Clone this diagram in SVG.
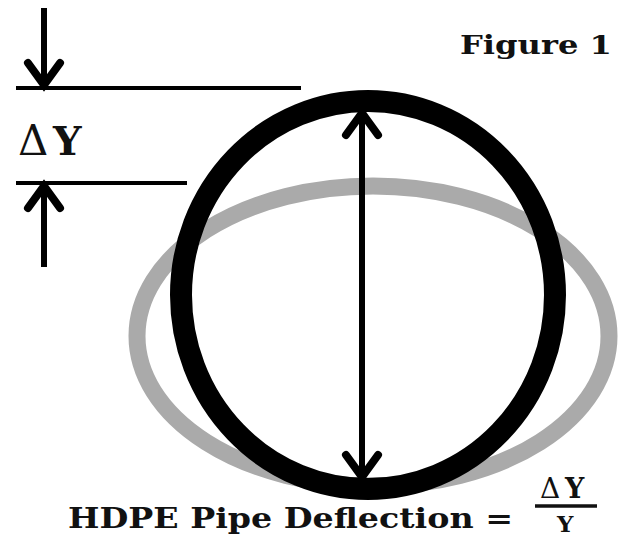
<svg xmlns="http://www.w3.org/2000/svg" width="625" height="539" viewBox="0 0 625 539">
<style>
.t{font-family:"DejaVu Serif","Liberation Serif",serif;font-weight:bold;fill:#111}
.ln{stroke:#000;stroke-width:4;fill:none}
.sh{stroke:#000;stroke-width:6;fill:none}
.hd{stroke:#000;stroke-width:8;fill:none;stroke-linejoin:miter;stroke-linecap:round}
</style>
<defs>
<path id="chev" d="M-16,28 L0,6 L16,28" class="hd"/>
</defs>
<rect width="625" height="539" fill="#fff"/>
<g id="deformed-pipe">
<ellipse cx="373" cy="336" rx="236" ry="150" fill="none" stroke="#aaa" stroke-width="17"/>
</g>
<g id="original-pipe">
<ellipse cx="368" cy="295" rx="187" ry="194" fill="none" stroke="#000" stroke-width="22"/>
</g>
<g id="connectors">
<line class="ln" x1="16" y1="88" x2="301" y2="88"/>
<line class="ln" x1="16" y1="183" x2="187" y2="183"/>
<line class="sh" x1="44" y1="8" x2="44" y2="80"/>
<use href="#chev" transform="translate(44,91) rotate(180)"/>
<line class="sh" x1="44" y1="192" x2="44" y2="267"/>
<use href="#chev" transform="translate(44,180)"/>
<line class="sh" x1="362" y1="118" x2="362" y2="472"/>
<use href="#chev" transform="translate(362,107)"/>
<use href="#chev" transform="translate(362,483) rotate(180)"/>
</g>
<g id="label-dy">
<text x="18" y="155" font-family="DejaVu Serif, serif" font-size="42" fill="#111">Δ</text>
<text class="t" x="53" y="155" font-size="40">Y</text>
</g>
<g id="title">
<text class="t" x="460" y="54" font-size="26" textLength="152" lengthAdjust="spacingAndGlyphs">Figure 1</text>
</g>
<g id="formula">
<text class="t" x="68" y="528" font-size="28" textLength="445" lengthAdjust="spacingAndGlyphs">HDPE Pipe Deflection =</text>
<text x="540" y="498" font-family="DejaVu Serif, serif" font-size="28" fill="#111">Δ</text>
<text class="t" x="565" y="498" font-size="27">Y</text>
<line x1="535" y1="506" x2="597" y2="506" stroke="#111" stroke-width="3.5"/>
<text class="t" x="557" y="532" font-size="23">Y</text>
</g>
</svg>
